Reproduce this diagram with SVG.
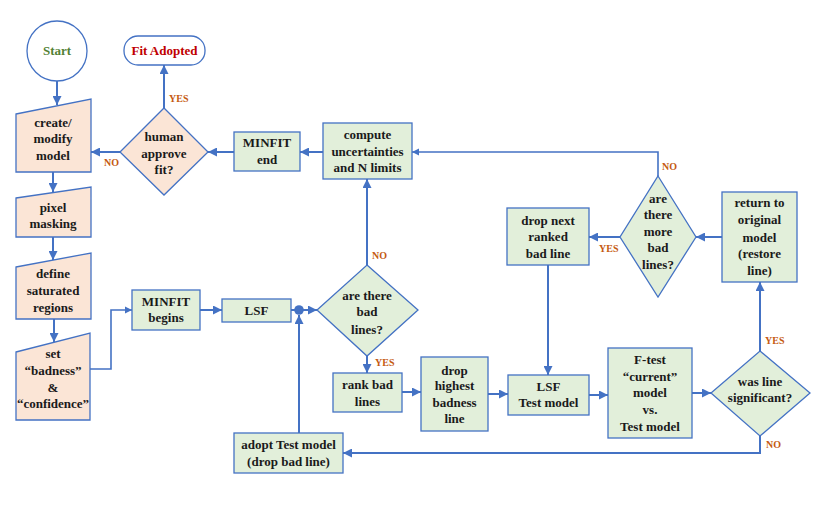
<svg xmlns="http://www.w3.org/2000/svg" width="830" height="530" viewBox="0 0 830 530">
<defs>
<marker id="ah" viewBox="0 0 10 10" refX="10" refY="5" markerWidth="4.5" markerHeight="4.5" orient="auto" markerUnits="strokeWidth">
<path d="M0,0 L10,5 L0,10 Z" fill="#4472C4"/>
</marker>
</defs>
<style>
.peach{fill:#FBE5D6;stroke:#4472C4;stroke-width:1.3}
.green{fill:#E2EFDA;stroke:#4472C4;stroke-width:1.3}
.wt{fill:#FFFFFF;stroke:#4472C4;stroke-width:1.3}
text{font-size:13px;font-weight:bold;fill:#1a1a1a;text-anchor:middle}
.lbl{font-size:10px;fill:#C55A11;text-anchor:start}
.c{fill:none;stroke:#4472C4;stroke-width:2;marker-end:url(#ah)}
</style>
<rect width="830" height="530" fill="#FFFFFF"/>

<g font-family="'Liberation Serif', 'Times New Roman', Times, 'DejaVu Serif', 'Noto Serif', serif">
<g id="connectors">
<path class="c" d="M57,81 V105"/>
<path class="c" d="M53,172 V192"/>
<path class="c" d="M53,237 V260"/>
<path class="c" d="M54,319 V342"/>
<path class="c" d="M90,369 H111 V310 H132" style="stroke-width:1.6"/>
<path class="c" d="M200,310 H222"/>
<path class="c" d="M291,310 H317"/>
<circle cx="299" cy="310" r="4.8" fill="#4472C4"/>
<path class="c" d="M367,265 V179"/>
<path class="c" d="M367,356 V373"/>
<path class="c" d="M402,392 H421"/>
<path class="c" d="M488,394 H508"/>
<path class="c" d="M589,395 H608"/>
<path class="c" d="M692,393 H711"/>
<path class="c" d="M760,351 V282"/>
<path class="c" d="M760,436 V453 H343"/>
<path class="c" d="M299,433 V315"/>
<path class="c" d="M722,237 H696"/>
<path class="c" d="M620,237 H589"/>
<path class="c" d="M548,265 V375"/>
<path class="c" d="M658,176 V152 H412" style="stroke-width:1.6"/>
<path class="c" d="M323,152 H300"/>
<path class="c" d="M234,152 H208"/>
<path class="c" d="M120,152 H91"/>
<path class="c" d="M164,108 V65"/>
<text class="lbl" x="169" y="102">YES</text>
<text class="lbl" x="104" y="166">NO</text>
<text class="lbl" x="372" y="259">NO</text>
<text class="lbl" x="375" y="366">YES</text>
<text class="lbl" x="599" y="252">YES</text>
<text class="lbl" x="662" y="170">NO</text>
<text class="lbl" x="765" y="344">YES</text>
<text class="lbl" x="766" y="448">NO</text>
</g>

<g id="start">
<circle class="wt" cx="57" cy="51" r="30"/>
<text x="57" y="55" style="fill:#538135">Start</text>
</g>
<g id="fit-adopted">
<rect class="wt" x="124" y="36" width="81" height="29" rx="14"/>
<text x="164.5" y="55" style="fill:#C00000">Fit Adopted</text>
</g>
<g id="create-modify">
<polygon class="peach" points="16,114 91,99 91,172 16,172"/>
<text x="53" y="127">create/</text>
<text x="53" y="143">modify</text>
<text x="53" y="160">model</text>
</g>
<g id="pixel-masking">
<polygon class="peach" points="16,198 91,187 91,237 16,237"/>
<text x="53" y="212">pixel</text>
<text x="53" y="228">masking</text>
</g>
<g id="define-saturated">
<polygon class="peach" points="16,267 91,253 91,319 16,319"/>
<text x="53" y="278">define</text>
<text x="53" y="295">saturated</text>
<text x="53" y="312">regions</text>
</g>
<g id="set-badness">
<polygon class="peach" points="16,352 90,333 90,420 16,420"/>
<text x="53" y="358">set</text>
<text x="53" y="375">“badness”</text>
<text x="53" y="392">&amp;</text>
<text x="53" y="408">“confidence”</text>
</g>
<g id="human-approve">
<polygon class="peach" points="164,108 208,152 164,195 120,152"/>
<text x="164" y="141">human</text>
<text x="164" y="158">approve</text>
<text x="164" y="174">fit?</text>
</g>
<g id="minfit-end">
<rect class="green" x="234" y="132" width="66" height="39"/>
<text x="267" y="147">MINFIT</text>
<text x="267" y="164">end</text>
</g>
<g id="compute">
<rect class="green" x="323" y="123" width="89" height="56"/>
<text x="367.5" y="139">compute</text>
<text x="367.5" y="156">uncertainties</text>
<text x="367.5" y="172">and N limits</text>
</g>
<g id="minfit-begins">
<rect class="green" x="132" y="290" width="68" height="40"/>
<text x="166" y="306">MINFIT</text>
<text x="166" y="322">begins</text>
</g>
<g id="lsf">
<rect class="green" x="222" y="299" width="69" height="23"/>
<text x="256.5" y="315">LSF</text>
</g>
<g id="bad-lines">
<polygon class="green" points="367,265 418,310 367,356 317,310"/>
<text x="367" y="300">are there</text>
<text x="367" y="316">bad</text>
<text x="367" y="334">lines?</text>
</g>
<g id="rank-bad-lines">
<rect class="green" x="333" y="373" width="69" height="39"/>
<text x="367.5" y="389">rank bad</text>
<text x="367.5" y="406">lines</text>
</g>
<g id="drop-highest">
<rect class="green" x="421" y="357" width="67" height="74"/>
<text x="454.5" y="375">drop</text>
<text x="454.5" y="390">highest</text>
<text x="454.5" y="407">badness</text>
<text x="454.5" y="423">line</text>
</g>
<g id="lsf-test">
<rect class="green" x="508" y="375" width="81" height="40"/>
<text x="548.5" y="391">LSF</text>
<text x="548.5" y="407">Test model</text>
</g>
<g id="f-test">
<rect class="green" x="608" y="348" width="84" height="90"/>
<text x="650" y="364">F-test</text>
<text x="650" y="381">“current”</text>
<text x="650" y="397">model</text>
<text x="650" y="414">vs.</text>
<text x="650" y="431">Test model</text>
</g>
<g id="line-significant">
<polygon class="green" points="760,351 810,393 760,436 711,393"/>
<text x="760" y="386">was line</text>
<text x="760" y="402">significant?</text>
</g>
<g id="return-original">
<rect class="green" x="722" y="192" width="75" height="90"/>
<text x="759.5" y="207">return to</text>
<text x="759.5" y="224">original</text>
<text x="759.5" y="242">model</text>
<text x="759.5" y="258">(restore</text>
<text x="759.5" y="275">line)</text>
</g>
<g id="more-bad-lines">
<polygon class="green" points="658,176 696,237 658,297 620,237"/>
<text x="658" y="203">are</text>
<text x="658" y="219">there</text>
<text x="658" y="236">more</text>
<text x="658" y="252">bad</text>
<text x="658" y="269">lines?</text>
</g>
<g id="drop-next">
<rect class="green" x="507" y="208" width="82" height="57"/>
<text x="548" y="225">drop next</text>
<text x="548" y="241">ranked</text>
<text x="548" y="258">bad line</text>
</g>
<g id="adopt-test">
<rect class="green" x="234" y="433" width="109" height="40"/>
<text x="288.5" y="449">adopt Test model</text>
<text x="288.5" y="466">(drop bad line)</text>
</g>
</g>
</svg>
